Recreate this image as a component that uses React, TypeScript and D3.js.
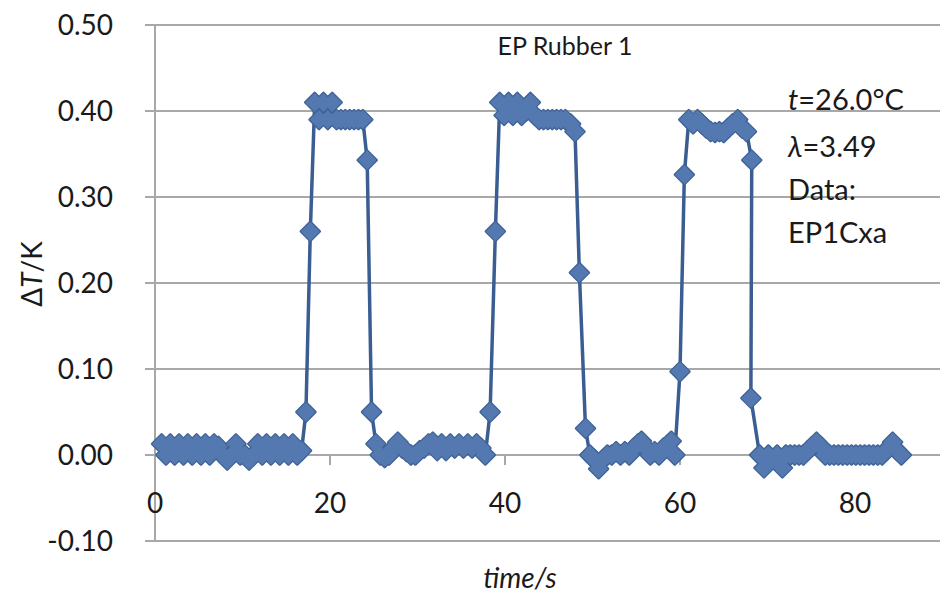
import React from "react";
import * as d3 from "d3";

// time (s), deltaT (K), segment by segment
const baseline1: [number, number][] = [
  [0.75, 0.013], [1.25, 0.0], [1.75, 0.013], [2.25, 0.0], [2.75, 0.013], [3.25, 0.0],
  [3.75, 0.013], [4.25, 0.0], [4.75, 0.013], [5.25, 0.0], [5.75, 0.013], [6.25, 0.0],
  [6.75, 0.013], [7.25, 0.01], [7.75, 0.0], [8.25, -0.006], [8.75, 0.0], [9.25, 0.013],
  [9.75, 0.0], [10.25, 0.0], [10.75, -0.006], [11.25, 0.0], [11.75, 0.013], [12.25, 0.0],
  [12.75, 0.013], [13.25, 0.0], [13.75, 0.013], [14.25, 0.0], [14.75, 0.013], [15.25, 0.0],
  [15.75, 0.013], [16.25, 0.0], [16.75, 0.005],
];

const pulse1: [number, number][] = [
  [17.25, 0.05], [17.75, 0.26], [18.25, 0.41], [18.75, 0.39], [19.25, 0.41], [19.75, 0.39],
  [20.25, 0.41], [20.75, 0.39], [21.25, 0.39], [21.75, 0.39], [22.25, 0.39], [22.75, 0.39],
  [23.25, 0.39], [23.75, 0.39], [24.25, 0.343], [24.75, 0.05],
];

const baseline2: [number, number][] = [
  [25.25, 0.013], [25.75, 0.0], [26.25, -0.003], [26.75, 0.0], [27.25, 0.008], [27.75, 0.015],
  [28.25, 0.008], [28.75, 0.004], [29.25, 0.0], [29.75, 0.0], [30.25, 0.005], [30.75, 0.008],
  [31.25, 0.013], [31.75, 0.015], [32.25, 0.005], [32.75, 0.013], [33.25, 0.005], [33.75, 0.013],
  [34.25, 0.008], [34.75, 0.013], [35.25, 0.008], [35.75, 0.013], [36.25, 0.008], [36.75, 0.013],
  [37.25, 0.008], [37.75, 0.0],
];

const pulse2: [number, number][] = [
  [38.3, 0.05], [38.9, 0.26], [39.4, 0.41], [39.9, 0.395], [40.4, 0.41], [40.9, 0.395],
  [41.4, 0.41], [41.9, 0.395], [42.4, 0.4], [42.9, 0.41], [43.4, 0.395], [43.9, 0.39],
  [44.4, 0.39], [44.9, 0.39], [45.4, 0.39], [45.9, 0.39], [46.4, 0.39], [46.9, 0.39],
  [47.5, 0.385], [48.0, 0.376], [48.5, 0.212], [49.2, 0.031],
];

const baseline3: [number, number][] = [
  [49.7, 0.0], [50.2, -0.005], [50.7, -0.016], [51.2, -0.005], [51.7, 0.0], [52.2, 0.0],
  [52.7, 0.004], [53.2, 0.0], [53.7, 0.004], [54.2, 0.0], [54.7, 0.008], [55.2, 0.013],
  [55.6, 0.016], [56.1, 0.008], [56.6, 0.0], [57.1, 0.004], [57.6, 0.0], [58.1, 0.008],
  [58.6, 0.012], [59.0, 0.016], [59.4, 0.0],
];

const pulse3: [number, number][] = [
  [60.0, 0.097], [60.5, 0.326], [61.0, 0.39], [61.5, 0.385], [62.0, 0.39], [62.5, 0.385],
  [63.0, 0.38], [63.5, 0.376], [64.0, 0.375], [64.5, 0.376], [65.0, 0.375], [65.5, 0.38],
  [66.0, 0.385], [66.6, 0.39], [67.1, 0.38], [67.6, 0.376], [68.2, 0.343], [68.1, 0.066],
];

const baseline4: [number, number][] = [
  [69.1, 0.0], [69.6, -0.015], [70.1, 0.0], [70.6, -0.005], [71.1, 0.0], [71.7, -0.015],
  [72.1, 0.0], [72.6, 0.0], [73.1, 0.0], [73.6, 0.0], [74.1, 0.0], [74.6, 0.005],
  [75.1, 0.01], [75.6, 0.015], [76.1, 0.01], [76.6, 0.0], [77.1, 0.0], [77.6, 0.0],
  [78.1, 0.0], [78.6, 0.0], [79.1, 0.0], [79.6, 0.0], [80.1, 0.0], [80.6, 0.0],
  [81.1, 0.0], [81.6, 0.0], [82.1, 0.0], [82.6, 0.0], [83.1, 0.0], [83.6, 0.005],
  [84.0, 0.01], [84.3, 0.015], [84.8, 0.005], [85.3, 0.0],
];

const xTicks = [0, 20, 40, 60, 80];
const yTicks = [-0.1, 0, 0.1, 0.2, 0.3, 0.4, 0.5];

const data = [...baseline1, ...pulse1, ...baseline2, ...pulse2, ...baseline3, ...pulse3, ...baseline4];

const W = 940;
const H = 603;
const FONT = "Lato, 'Open Sans', sans-serif";

export default function App() {
  const x = d3.scaleLinear().domain([0, 90]).range([155, 942.5]);
  const y = d3.scaleLinear().domain([-0.1, 0.5]).range([541, 25]);

  const path = d3
    .line<[number, number]>()
    .x((d) => x(d[0]))
    .y((d) => y(d[1]))(data) as string;

  const r = 9.5;
  const diamond = (d: [number, number]) => {
    const cx = x(d[0]);
    const cy = y(d[1]);
    return `M${cx},${cy - r}L${cx + r},${cy}L${cx},${cy + r}L${cx - r},${cy}Z`;
  };

  const grid = "#a8a8a8";
  const fmt = (t: number) => d3.format(".2f")(t).replace("−", "-");

  return (
    <svg width={W} height={H} style={{ position: "absolute", left: 0, top: 0, background: "#fff" }}>
      {/* gridlines + y tick labels */}
      {yTicks.map((t) => (
        <g key={t}>
          <line x1={145} x2={W} y1={y(t)} y2={y(t)} stroke={grid} strokeWidth={2} />
          <text x={113} y={y(t)} dy="0.36em" textAnchor="end" fontFamily={FONT} fontSize={28} fill="#1a1a1a">
            {fmt(t)}
          </text>
        </g>
      ))}
      <line x1={155} x2={155} y1={y(0.5)} y2={y(-0.1)} stroke={grid} strokeWidth={2} />

      {/* x ticks on the zero line */}
      {xTicks.map((t) => (
        <g key={t}>
          {t > 0 && <line x1={x(t)} x2={x(t)} y1={y(0)} y2={y(0) + 10} stroke={grid} strokeWidth={2} />}
          <text x={x(t)} y={513} textAnchor="middle" fontFamily={FONT} fontSize={28} fill="#1a1a1a">
            {t}
          </text>
        </g>
      ))}

      {/* series: line, then marker outlines underneath a stroke-less fill layer */}
      <path d={path} fill="none" stroke="#3a5d92" strokeWidth={3.5} strokeLinejoin="round" />
      <g fill="#3f6296" stroke="#3f6296" strokeWidth={2.5} strokeLinejoin="round">
        {data.map((d, i) => (
          <path key={i} d={diamond(d)} />
        ))}
      </g>
      <g fill="#5479b0">
        {data.map((d, i) => (
          <path key={i} d={diamond(d)} />
        ))}
      </g>

      {/* titles */}
      <text x={565} y={55} textAnchor="middle" fontFamily={FONT} fontSize={25} fill="#1a1a1a">
        EP Rubber 1
      </text>
      <text x={520} y={588} textAnchor="middle" fontFamily={FONT} fontSize={28} fontStyle="italic" fill="#1a1a1a">
        time/s
      </text>
      <text
        transform="translate(42,274) rotate(-90)"
        textAnchor="middle"
        fontFamily={FONT}
        fontSize={28}
        fill="#1a1a1a"
      >
        Δ<tspan fontStyle="italic">T</tspan>/K
      </text>

      {/* annotations */}
      <g fontFamily={FONT} fontSize={29} fill="#1a1a1a">
        <text x={788} y={110}>
          <tspan fontStyle="italic">t</tspan>=26.0°C
        </text>
        <text x={788} y={157}>
          <tspan fontStyle="italic">λ</tspan>=3.49
        </text>
        <text x={788} y={200}>Data:</text>
        <text x={788} y={243}>EP1Cxa</text>
      </g>
    </svg>
  );
}
